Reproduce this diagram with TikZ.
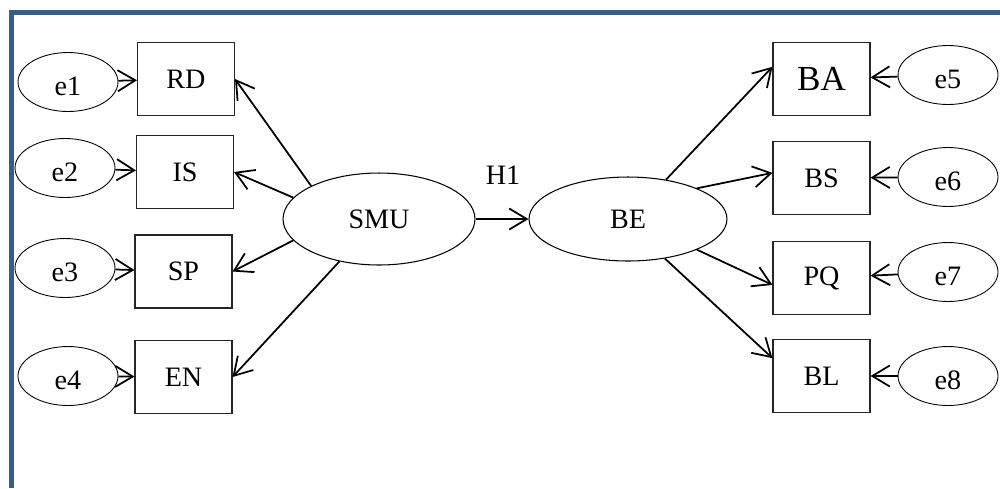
\documentclass[tikz,border=0pt]{standalone}
\usepackage{fontspec}
\setmainfont{Liberation Serif}
\usetikzlibrary{arrows.meta,shapes.geometric}
\definecolor{frameblue}{HTML}{385D8A}

\begin{document}
\begin{tikzpicture}
         [x=0.02cm,y=-0.02cm,font=\fontsize{16}{19}\selectfont,
          obs/.style={draw=black!85,line width=0.6pt,minimum width=1.94cm,minimum height=1.46cm,inner sep=0pt},
          err/.style={ellipse,draw,line width=0.5pt,minimum width=2cm,minimum height=1.18cm,inner sep=0pt,
                      text height=15pt,text depth=0pt},
          lat/.style={ellipse,draw,line width=0.6pt,inner sep=0pt},
          arr/.style={-{Straight Barb[length=10pt,width=12pt]},line width=1pt}]
         \useasboundingbox (0,0) rectangle (1000,488);
         \draw[frameblue,line width=2.8pt] (11.5,488) -- (11.5,12.5) -- (1000,12.5);

         % indicators of SMU
         \node[err] (e1) at (68,82) {e1};
         \node[err] (e2) at (65,168) {e2};
         \node[err] (e3) at (65,268) {e3};
         \node[err] (e4) at (68,376) {e4};
         \node[obs] (rd) at (186,79) {RD};
         \node[obs] (is) at (185,172) {IS};
         \node[obs] (sp) at (183.5,271.5) {SP};
         \node[obs] (en) at (183.5,377) {EN};

         \node[lat,minimum width=3.84cm,minimum height=1.84cm] (smu) at (379,219) {SMU};
         \node[lat,minimum width=3.96cm,minimum height=1.68cm] (be) at (628,219) {BE};
         \node (h1) at (503,175) {H1};

         % indicators of BE
         \node[obs,font=\fontsize{20}{24}\selectfont] (ba) at (821.5,79) {BA};
         \node[obs] (bs) at (821.5,178) {BS};
         \node[obs] (pq) at (821.5,278) {PQ};
         \node[obs] (bl) at (821.5,376) {BL};
         \node[err] (e5) at (948,75) {e5};
         \node[err] (e6) at (948,177) {e6};
         \node[err] (e7) at (948,272) {e7};
         \node[err] (e8) at (948,376) {e8};

         \draw[arr] (e1) -- (rd);
         \draw[arr] (e2) -- (is);
         \draw[arr] (e3) -- (sp);
         \draw[arr] (e4) -- (en);
         \draw[arr] (smu.154) -- (rd.east);
         \draw[arr] (smu.166) -- (is.east);
         \draw[arr] (smu.194) -- (sp.east);
         \draw[arr] (smu.227) -- (en.east);

         \draw[arr] (smu) -- (be);

         \draw[arr] (be.46) -- (ba.166);
         \draw[arr] (be.24) -- (bs.174);
         \draw[arr] (be.336) -- (pq.188);
         \draw[arr] (be.313) -- (bl.160);
         \draw[arr] (e5) -- (ba);
         \draw[arr] (e6) -- (bs);
         \draw[arr] (e7) -- (pq);
         \draw[arr] (e8) -- (bl);
      \end{tikzpicture}
\end{document}
